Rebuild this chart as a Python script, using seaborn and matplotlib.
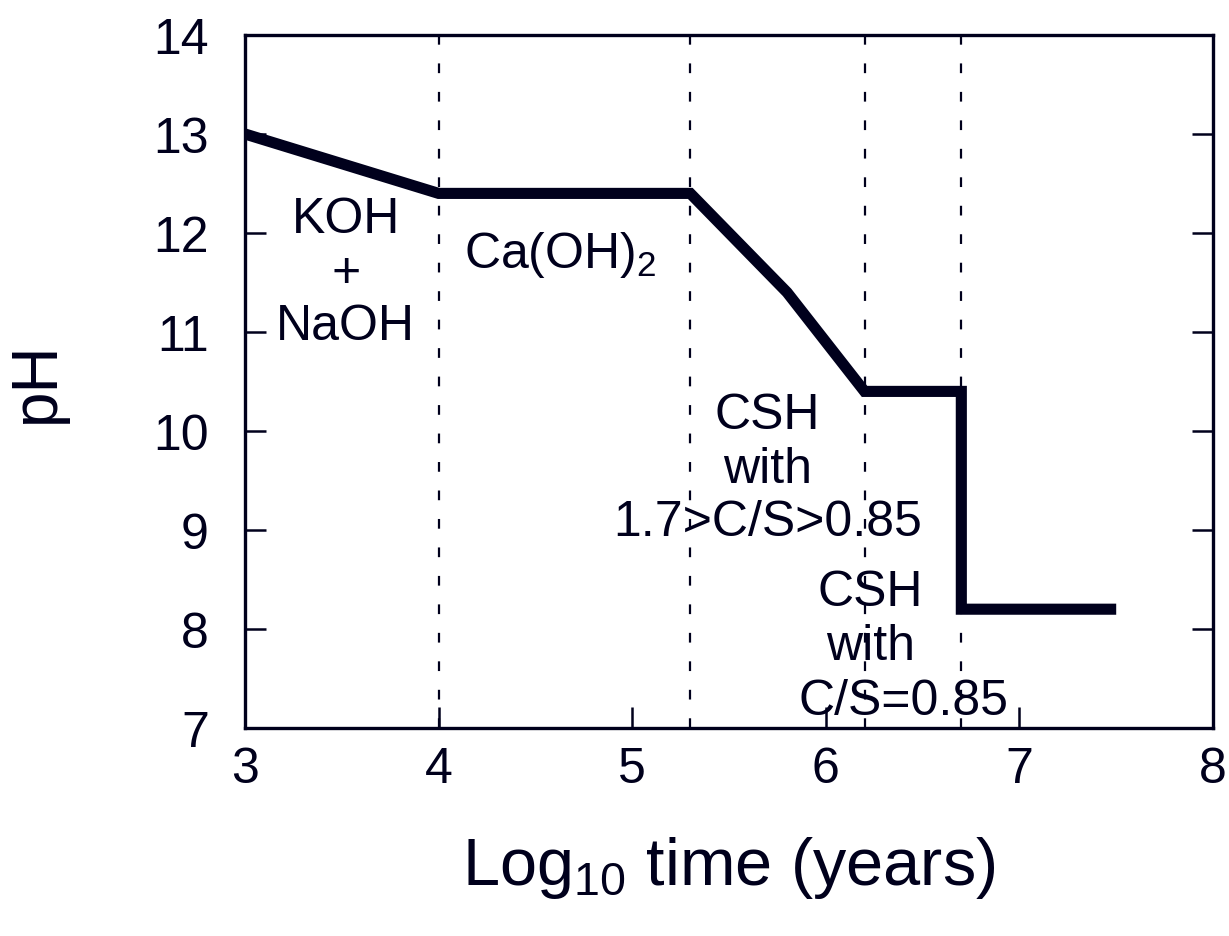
import matplotlib
matplotlib.use("Agg")
import matplotlib.pyplot as plt
import pandas as pd
import seaborn as sns

# pH evolution of cement pore water against log time
log_time = [3.0, 4.0, 5.3, 5.8, 6.2, 6.7, 6.7, 7.5]
ph = [13.0, 12.4, 12.4, 11.4, 10.4, 10.4, 8.2, 8.2]

# stage boundaries (log10 years)
boundaries = [4.0, 5.3, 6.2, 6.7]

x_ticks = [3, 4, 5, 6, 7, 8]
y_ticks = [7, 8, 9, 10, 11, 12, 13, 14]

ink = "#00001c"

sns.set_theme(style="white")
plt.rcParams["font.family"] = ["Liberation Sans", "DejaVu Sans"]
plt.rcParams["mathtext.fontset"] = "custom"
plt.rcParams["mathtext.rm"] = "Liberation Sans"
plt.rcParams["mathtext.it"] = "Liberation Sans"
plt.rcParams["lines.scale_dashes"] = False

fig = plt.figure(figsize=(12.29, 9.37), dpi=100)
ax = fig.add_axes([245 / 1229, 1 - 729 / 937, (1213 - 245) / 1229, (729 - 36) / 937])

for b in boundaries:
    ax.axvline(b, color=ink, lw=1.6, linestyle=(0, (7, 13.5)), zorder=1)

df = pd.DataFrame({"log_time": log_time, "pH": ph})
sns.lineplot(data=df, x="log_time", y="pH", sort=False, estimator=None,
             color=ink, lw=8, ax=ax, zorder=3,
             solid_capstyle="butt", solid_joinstyle="miter")

ax.set_xlim(3, 8)
ax.set_ylim(7, 14)
ax.set_xticks(x_ticks)
ax.set_yticks(y_ticks)
ax.tick_params(axis="both", direction="in", length=15, width=1.8, colors=ink,
               labelsize=36, labelcolor=ink, top=False, right=True,
               bottom=True, left=True)
ax.tick_params(axis="x", pad=13)
ax.tick_params(axis="y", pad=26)
for s in ax.spines.values():
    s.set_color(ink)
    s.set_linewidth(2.4)

ax.set_xlabel("Log$_{10}$ time (years)", fontsize=48, color=ink, labelpad=30)
ax.set_ylabel("pH", fontsize=46, color=ink, labelpad=62)

txt = dict(color=ink, fontsize=36, ha="center", va="center", linespacing=1.2, zorder=4)
ax.text(3.52, 11.6, "KOH\n+\nNaOH", **txt)
ax.text(4.63, 11.79, "Ca(OH)$_2$", **txt)
ax.text(5.70, 9.62, "CSH\nwith\n1.7>C/S>0.85", **txt)
ax.text(6.23, 8.10, "CSH\nwith", **txt)
ax.text(6.40, 7.27, "C/S=0.85", **txt)

fig.savefig("out.png", dpi=100)
